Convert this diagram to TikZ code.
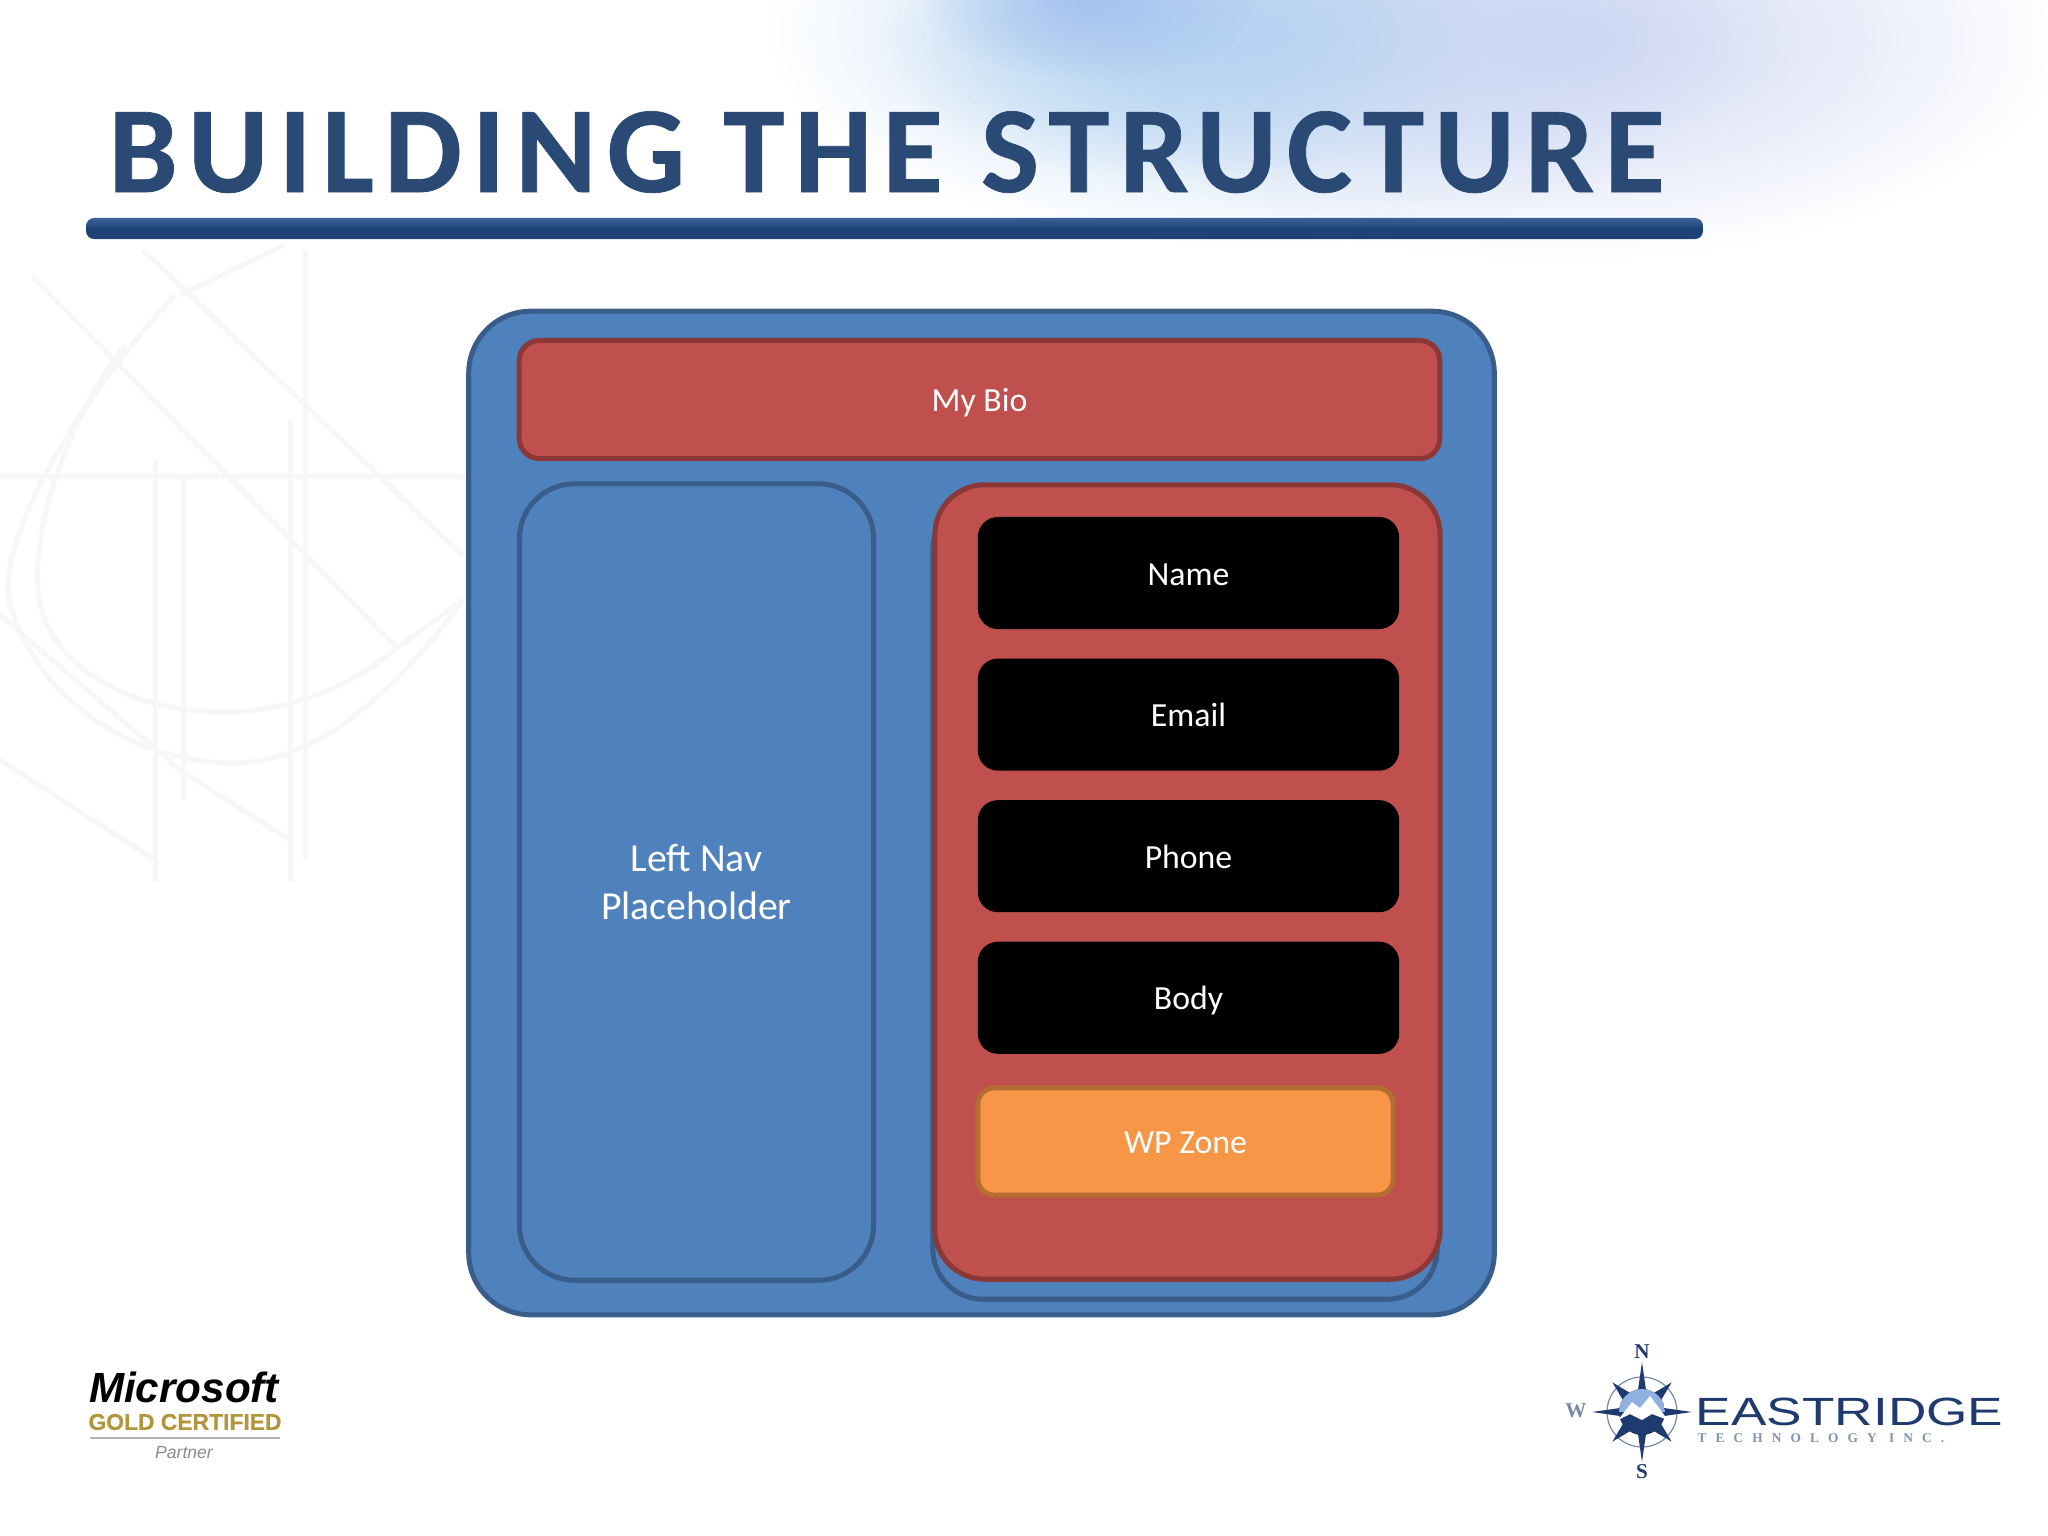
\documentclass[tikz,border=0pt]{standalone}
\usepackage{fontspec}
\setmainfont{Carlito}
\newfontfamily\headfont[LetterSpace=8.4, BoldFeatures={FakeBold=0.6}]{Carlito}
\newfontfamily\logofont[BoldFeatures={FakeBold=0.5}]{Liberation Sans}
\newfontfamily\markfont{Liberation Serif}
\newfontfamily\tagfont[LetterSpace=68]{Liberation Serif}
\usepackage{tikz}
\usetikzlibrary{fadings}
\tikzfading[name=softblob, inner color=transparent!0, outer color=transparent!100]
\definecolor{slideblue}{HTML}{4F81BD}
\definecolor{slideblueline}{HTML}{385D8A}
\definecolor{slidered}{HTML}{C0504D}
\definecolor{slideredline}{HTML}{8C3836}
\definecolor{zoneorange}{HTML}{F79646}
\definecolor{zoneline}{HTML}{B66D31}
\definecolor{headblue}{HTML}{2A4A75}
\definecolor{navy}{HTML}{1E3A6E}
\definecolor{goldtext}{HTML}{B2963C}
\definecolor{skyblue}{HTML}{B5D4F2}
\definecolor{hazeblue}{HTML}{CDD6F3}
\definecolor{streakblue}{HTML}{A4C2EE}
\definecolor{rulelight}{HTML}{3A6298}
\definecolor{ruledark}{HTML}{1F4274}
\definecolor{peakblue}{HTML}{8FB0E0}
\begin{document}
\begin{tikzpicture}[
x=0.01cm, y=-0.01cm,
bluebox/.style={rectangle, draw=slideblueline, fill=slideblue, line width=0.05cm, text=white},
redbox/.style={rectangle, draw=slideredline, fill=slidered, line width=0.05cm, text=white},
label/.style={font=\fontsize{9.6}{12}\selectfont, text height=0.32cm, text depth=0.08cm},
fieldbox/.style={rectangle, fill=black, text=white, minimum width=4.21cm, minimum height=1.12cm, rounded corners=0.2cm, label},
blob/.style={path fading=softblob, fit fading=true},
faint/.style={draw=black!3, line width=0.05cm}
]
\useasboundingbox (0,0) rectangle (2048,1536);
%Background
\begin{scope}
\clip (0,0) rectangle (2048,1536);
\fill[white] (0,0) rectangle (2048,1536);
\fill[blob, fill=skyblue] (1260,30) ellipse [x radius=490, y radius=215];
\fill[blob, fill=hazeblue] (1560,40) ellipse [x radius=500, y radius=220];
\fill[blob, fill=skyblue] (1180,40) ellipse [x radius=300, y radius=140];
\fill[blob, fill=streakblue] (1090,0) ellipse [x radius=170, y radius=80];
\draw[faint] (0,476) -- (465,476);
\draw[faint] (155,460) -- (155,882);
\draw[faint] (183,478) -- (183,800);
\draw[faint] (290,420) -- (290,882);
\draw[faint] (305,250) -- (305,860);
\draw[faint] (33,277) -- (397,648);
\draw[faint] (143,250) -- (463,556);
\draw[faint] (397,648) -- (463,600);
\draw[faint] (175,295) .. controls (60,420) and (-10,560) .. (12,610) .. controls (40,700) and (130,760) .. (230,763) .. controls (310,765) and (390,700) .. (463,600);
\draw[faint] (125,345) .. controls (60,430) and (20,560) .. (45,620) .. controls (70,680) and (150,715) .. (230,712) .. controls (300,710) and (360,680) .. (397,648);
\draw[faint] (0,615) -- (180,770) -- (290,840);
\draw[faint] (0,760) -- (155,860);
\draw[faint] (285,245) -- (180,295);
\end{scope}
%Title
\node[anchor=base west, inner sep=0pt, text=headblue, font=\headfont\bfseries\fontsize{35}{40}\selectfont] (title) at (108,192) {BUILDING THE STRUCTURE};
\node[rectangle, top color=rulelight, bottom color=ruledark, middle color=ruledark, minimum width=16.16cm, minimum height=0.21cm, inner sep=0pt, rounded corners=0.08cm] (rule) at (894.5,228.5) {};
%Boxes
\node[bluebox, minimum width=10.25cm, minimum height=10.03cm, rounded corners=0.62cm] (page) at (981.5,813) {};
\node[redbox, label, minimum width=9.2cm, minimum height=1.18cm, rounded corners=0.2cm] (bio) at (979.5,399.5) {My Bio};
\node[bluebox, minimum width=3.54cm, minimum height=7.96cm, rounded corners=0.55cm, align=center, font=\fontsize{11.3}{13.7}\selectfont] (nav) at (696.5,882) {Left Nav\\Placeholder};
\node[bluebox, minimum width=5.04cm, minimum height=7.99cm, rounded corners=0.5cm] (under) at (1185,899.5) {};
\node[redbox, minimum width=5.05cm, minimum height=7.94cm, rounded corners=0.5cm] (content) at (1187.5,882) {};
\node[fieldbox] (name) at (1188.5,573) {Name};
\node[fieldbox] (email) [below of=name, yshift=-0.415cm] {Email};
\node[fieldbox] (phone) [below of=email, yshift=-0.415cm] {Phone};
\node[fieldbox] (body) [below of=phone, yshift=-0.415cm] {Body};
\node[rectangle, draw=zoneline, fill=zoneorange, line width=0.05cm, text=white, label, minimum width=4.15cm, minimum height=1.07cm, rounded corners=0.16cm] (zone) at (1185.5,1141.5) {WP Zone};
%Partner logo
\node[text=black, inner sep=0pt, font=\logofont\bfseries\itshape\fontsize{12}{14}\selectfont] (ms) at (184,1387) {Microsoft};
\node[text=goldtext, inner sep=0pt, font=\logofont\bfseries\fontsize{6.5}{8}\selectfont] (gold) at (185,1422) {GOLD CERTIFIED};
\coordinate (goldl) at (90,1438);
\coordinate (goldr) at (280,1438);
\draw[black!30, line width=0.012cm] (goldl) -- (goldr);
\node[text=black!45, inner sep=0pt, font=\logofont\itshape\fontsize{5}{6}\selectfont] (partner) at (184,1453) {Partner};
%Company logo
\coordinate (hub) at (1642,1412);
\draw[navy!60!white, line width=0.012cm] (hub) circle [radius=35];
\foreach \ang in {45,135,225,315}
  \fill[navy, rotate around={\ang:(hub)}] (1684,1412) -- (1660,1406) -- (1660,1418) -- cycle;
\foreach \ang in {0,90,180,270}
  \fill[navy, rotate around={\ang:(hub)}] (1692,1412) -- (1664,1408) -- (1642,1412) -- (1664,1416) -- cycle;
\begin{scope}
\clip (hub) circle [radius=23];
\fill[navy] (1619,1389) rectangle (1665,1435);
\fill[peakblue] (1619,1389) rectangle (1665,1412);
\fill[white] (1618,1420) -- (1632,1402) -- (1640,1408) -- (1650,1396) -- (1668,1420) -- (1652,1414) -- (1642,1420) -- (1630,1414) -- cycle;
\end{scope}
\node[text=navy, inner sep=0pt, font=\markfont\bfseries\fontsize{6}{7}\selectfont] (north) at (1642,1352) {N};
\node[text=navy, inner sep=0pt, font=\markfont\bfseries\fontsize{6}{7}\selectfont] (south) at (1642,1472) {S};
\node[text=navy!60!white, inner sep=0pt, font=\markfont\bfseries\fontsize{6}{7}\selectfont] (west) at (1576,1411) {W};
\node[anchor=base west, text=navy, inner sep=0pt, xscale=1.35, font=\logofont\fontsize{11.2}{13}\selectfont] (brand) at (1695,1425) {EASTRIDGE};
\node[anchor=base west, text=navy!55!white, inner sep=0pt, font=\tagfont\bfseries\fontsize{3.8}{5}\selectfont] (tag) at (1697,1442) {TECHNOLOGY INC.};
\end{tikzpicture}
\end{document}
